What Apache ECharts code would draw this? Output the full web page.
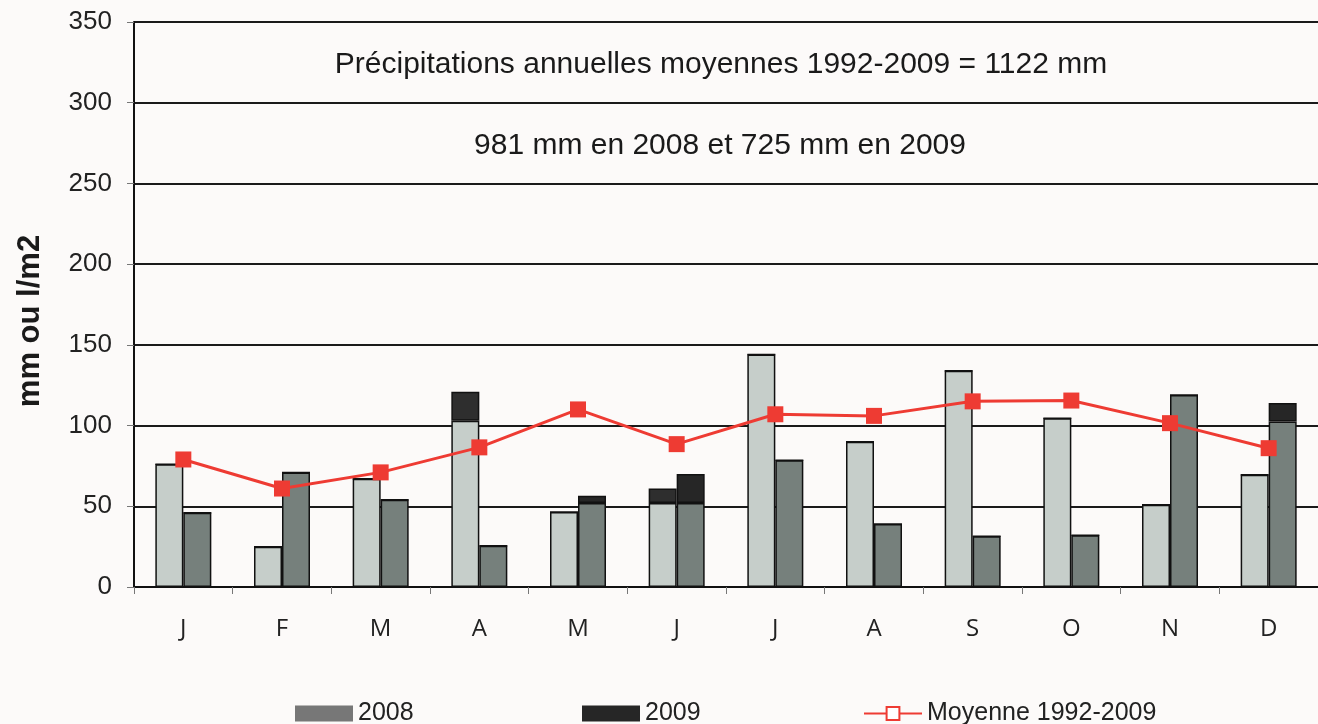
<!DOCTYPE html>
<html lang="fr">
<head>
  <meta charset="UTF-8">
  <title>Précipitations</title>
  <style>
    html, body { margin: 0; padding: 0; background: #fcfaf9; }
  </style>
</head>
<body>
<div id="main" style="width: 1318px;height: 724px"></div>
<script type="text/javascript" src="https://cdn.jsdelivr.net/npm/echarts@6/dist/echarts.min.js"></script>
<script>
var mois = ['J', 'F', 'M', 'A', 'M', 'J', 'J', 'A', 'S', 'O', 'N', 'D'];
// totaux (mm)
var pluie2008 = [76, 25, 67, 121, 46.5, 61, 144, 90, 134, 104.5, 51, 69.5];
var pluie2009 = [46, 71, 54, 25.5, 56.5, 70, 78.5, 39, 31.5, 32, 119, 114];
// partie haute foncée de certaines barres
var haut2008 = [0, 0, 0, 18, 0, 9, 0, 0, 0, 0, 0, 0];
var haut2009 = [0, 0, 0, 0, 4.5, 18, 0, 0, 0, 0, 0, 11.5];
var moyenne = [79, 61, 71, 86.5, 110, 88.5, 107, 106, 115, 115.5, 101.5, 86];
var ticksY = [0, 50, 100, 150, 200, 250, 300, 350];

var base2008 = pluie2008.map(function (v, i) { return v - haut2008[i]; });
var base2009 = pluie2009.map(function (v, i) { return v - haut2009[i]; });

var bord = { borderColor: '#111', borderWidth: 1.5 };
var police = '"Liberation Sans", Arial, sans-serif';

var option = {
  backgroundColor: '#fcfaf9',
  animation: false,
  grid: { left: 134, right: -8, top: 22, bottom: 137 },
  graphic: [
    {
      type: 'text', x: 721, y: 65,
      style: { text: 'Précipitations annuelles moyennes 1992-2009 = 1122 mm', fill: '#1a1a1a',
        font: '30px ' + police, align: 'center', verticalAlign: 'middle' }
    },
    {
      type: 'text', x: 720, y: 146,
      style: { text: '981 mm en 2008 et 725 mm en 2009', fill: '#1a1a1a',
        font: '30px ' + police, align: 'center', verticalAlign: 'middle' }
    },
    {
      type: 'text', x: 30, y: 321, rotation: Math.PI / 2,
      style: { text: 'mm ou l/m2', fill: '#1a1a1a',
        font: 'bold 31px ' + police, align: 'center', verticalAlign: 'middle' }
    }
  ],
  legend: [
    { left: 290, top: 696, itemWidth: 58, itemHeight: 16, itemGap: 4,
      textStyle: { fontSize: 25, color: '#222', fontFamily: 'Liberation Sans' },
      data: [{ name: '2008', icon: 'rect', itemStyle: { color: '#777', borderWidth: 0 } }] },
    { left: 577, top: 696, itemWidth: 58, itemHeight: 16, itemGap: 4,
      textStyle: { fontSize: 25, color: '#222', fontFamily: 'Liberation Sans' },
      data: [{ name: '2009', icon: 'rect', itemStyle: { color: '#262626', borderWidth: 0 } }] },
    { left: 858, top: 696, itemWidth: 58, itemHeight: 16, itemGap: 6,
      textStyle: { fontSize: 25, color: '#222', fontFamily: 'Liberation Sans' },
      data: [{ name: 'Moyenne 1992-2009', itemStyle: { color: '#fff', borderColor: '#ee3b33', borderWidth: 2 } }] }
  ],
  xAxis: {
    type: 'category',
    data: mois,
    axisLine: { lineStyle: { color: '#111', width: 2 } },
    axisTick: { show: true, length: 7, lineStyle: { color: '#777', width: 1 } },
    axisLabel: { margin: 30, fontSize: 24, color: '#222', fontFamily: 'Open Sans' }
  },
  yAxis: {
    type: 'value',
    min: 0, max: 350, interval: 50,
    axisLine: { show: true, lineStyle: { color: '#111', width: 2 } },
    axisTick: { show: true, length: 7, lineStyle: { color: '#777' } },
    axisLabel: { margin: 22, fontSize: 26, color: '#222', fontFamily: 'Liberation Sans',
      formatter: function (v) { return ticksY.indexOf(v) >= 0 ? v : ''; } },
    splitLine: { lineStyle: { color: '#1a1a1a', width: 2 } }
  },
  series: [
    { name: '2008', type: 'bar', stack: 'a', data: base2008, barWidth: 28, barGap: '0%',
      itemStyle: Object.assign({ color: '#c6ceca' }, bord) },
    { name: '2008', type: 'bar', stack: 'a', data: haut2008, barWidth: 28,
      itemStyle: Object.assign({ color: '#2e2e2e' }, bord) },
    { name: '2009', type: 'bar', stack: 'b', data: base2009, barWidth: 28,
      itemStyle: Object.assign({ color: '#76807c' }, bord) },
    { name: '2009', type: 'bar', stack: 'b', data: haut2009, barWidth: 28,
      itemStyle: Object.assign({ color: '#262626' }, bord) },
    { name: 'Moyenne 1992-2009', type: 'line', data: moyenne, z: 5,
      symbol: 'rect', symbolSize: 16,
      lineStyle: { color: '#ee3b33', width: 3 },
      itemStyle: { color: '#ee3b33' } }
  ]
};

var myChart = echarts.init(document.getElementById('main'));
myChart.setOption(option);
</script>
</body>
</html>
